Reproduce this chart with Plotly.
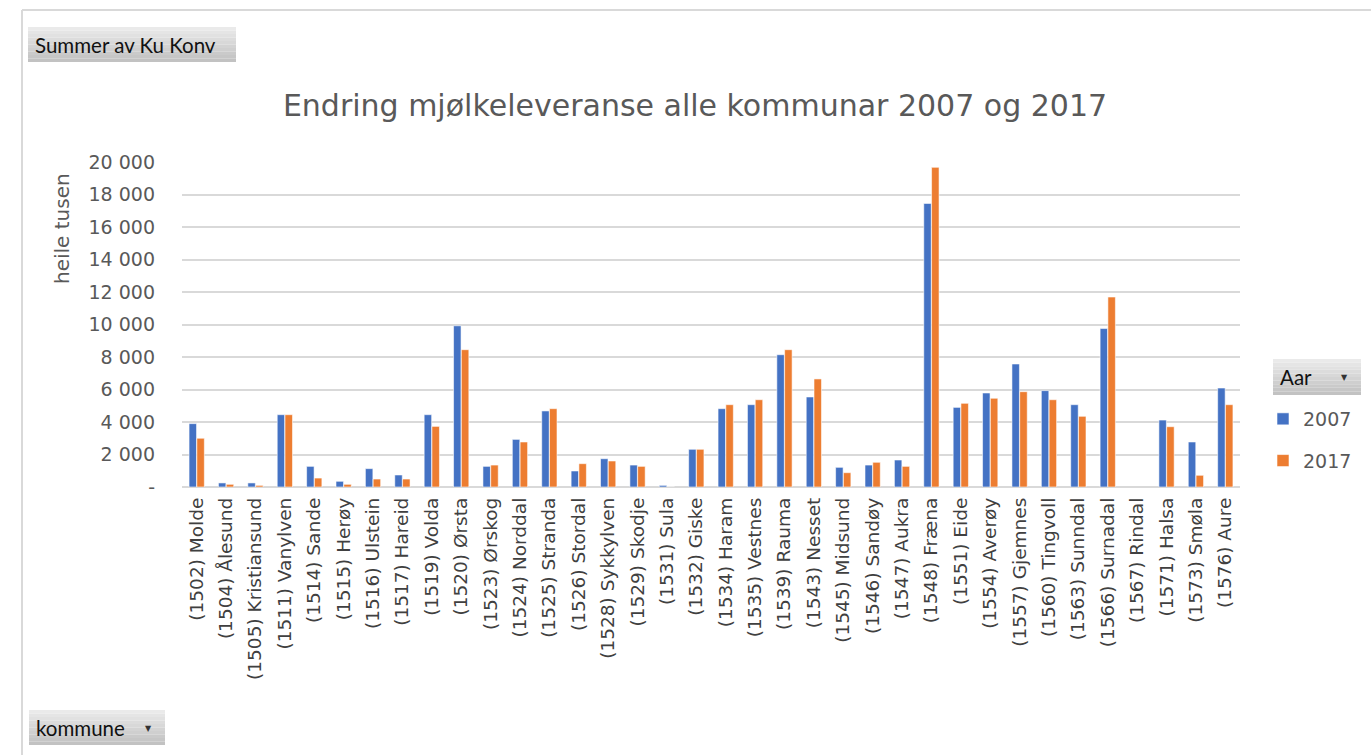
import plotly.graph_objects as go

kommune = ["(1502) Molde", "(1504) Ålesund", "(1505) Kristiansund", "(1511) Vanylven",
           "(1514) Sande", "(1515) Herøy", "(1516) Ulstein", "(1517) Hareid",
           "(1519) Volda", "(1520) Ørsta", "(1523) Ørskog", "(1524) Norddal",
           "(1525) Stranda", "(1526) Stordal", "(1528) Sykkylven", "(1529) Skodje",
           "(1531) Sula", "(1532) Giske", "(1534) Haram", "(1535) Vestnes",
           "(1539) Rauma", "(1543) Nesset", "(1545) Midsund", "(1546) Sandøy",
           "(1547) Aukra", "(1548) Fræna", "(1551) Eide", "(1554) Averøy",
           "(1557) Gjemnes", "(1560) Tingvoll", "(1563) Sunndal", "(1566) Surnadal",
           "(1567) Rindal", "(1571) Halsa", "(1573) Smøla", "(1576) Aure"]

v2007 = [3900, 250, 250, 4450, 1270, 350, 1130, 740, 4450, 9920, 1270, 2930,
         4680, 985, 1740, 1350, 100, 2320, 4820, 5065, 8140, 5540, 1210, 1350,
         1660, 17450, 4900, 5785, 7570, 5930, 5065, 9750, None, 4120, 2770, 6090]
v2017 = [3000, 165, 100, 4450, 550, 165, 490, 490, 3730, 8450, 1350, 2770,
         4820, 1435, 1600, 1270, 0, 2320, 5065, 5370, 8450, 6650, 880, 1520,
         1270, 19670, 5150, 5460, 5865, 5370, 4350, 11690, None, 3710, 720, 5065]

years = ["2007", "2017"]
colors = ["#4472C4", "#ED7D31"]

ytickvals = [0, 2000, 4000, 6000, 8000, 10000, 12000, 14000, 16000, 18000, 20000]
yticktext = ["-", "2 000", "4 000", "6 000", "8 000", "10 000", "12 000",
             "14 000", "16 000", "18 000", "20 000"]

W, H = 1371, 755
L, R, T, B = 182, 1240, 162, 487   # plot area in pixels
FONT = "DejaVu Sans"
BTNFONT = "Lato"
GREY = "#595959"


def px(x):
    return (x - L) / (R - L)


def py(y):
    return (B - y) / (B - T)


fig = go.Figure()
for i, (yr, vals) in enumerate(zip(years, [v2007, v2017])):
    fig.add_trace(go.Bar(
        x=kommune, y=vals, name=yr, legendgroup=yr,
        marker=dict(color=colors[i], line=dict(color="rgba(255,255,255,0.7)", width=0.8)),
    ))

shapes = []
# outer frame
shapes.append(dict(type="line", xref="paper", yref="paper",
                   x0=px(22), x1=px(W + 5), y0=py(10), y1=py(10),
                   line=dict(color="#d9d9d9", width=2)))
shapes.append(dict(type="line", xref="paper", yref="paper",
                   x0=px(22), x1=px(22), y0=py(10), y1=py(H + 5),
                   line=dict(color="#d9d9d9", width=2)))


def button(x0, y0, x1, y1):
    n = 10
    h = (y1 - y0) / n
    for k in range(n):
        g = int(234 - k * (234 - 194) / (n - 1))
        shapes.append(dict(type="rect", xref="paper", yref="paper",
                           x0=px(x0), x1=px(x1),
                           y0=py(y0 + (k + 1) * h), y1=py(y0 + k * h),
                           line=dict(width=0), fillcolor=f"rgb({g},{g},{g})", layer="below"))


button(28, 27, 236, 62)
button(29, 710, 165, 745)
button(1273, 359, 1361, 395)

annotations = [
    dict(text="Summer av Ku Konv", x=px(33), y=py(45), xref="paper", yref="paper",
         xanchor="left", yanchor="middle", showarrow=False,
         font=dict(family=BTNFONT, size=20.5, color="#111111")),
    dict(text="kommune", x=px(34), y=py(728), xref="paper", yref="paper",
         xanchor="left", yanchor="middle", showarrow=False,
         font=dict(family=BTNFONT, size=20.5, color="#111111")),
    dict(text="▼", x=px(148), y=py(728), xref="paper", yref="paper",
         xanchor="center", yanchor="middle", showarrow=False,
         font=dict(family="DejaVu Sans", size=8, color="#333333")),
    dict(text="Aar", x=px(1278), y=py(377), xref="paper", yref="paper",
         xanchor="left", yanchor="middle", showarrow=False,
         font=dict(family=BTNFONT, size=20.5, color="#111111")),
    dict(text="▼", x=px(1344), y=py(377), xref="paper", yref="paper",
         xanchor="center", yanchor="middle", showarrow=False,
         font=dict(family="DejaVu Sans", size=8, color="#333333")),
    dict(text="heile tusen", x=px(62), y=py(229), xref="paper", yref="paper",
         xanchor="center", yanchor="middle", textangle=-90, showarrow=False,
         font=dict(family=FONT, size=20, color=GREY)),
]

fig.update_layout(
    width=W, height=H,
    paper_bgcolor="white", plot_bgcolor="white",
    margin=dict(l=L, r=W - R, t=T, b=H - B, autoexpand=False),
    title=dict(text="Endring mjølkeleveranse alle kommunar 2007 og 2017",
               x=695 / W, xanchor="center", xref="container",
               y=1 - 105 / H, yanchor="middle", yref="container",
               font=dict(family=FONT, size=30, color=GREY)),
    barmode="group", bargap=0.47, bargroupgap=0.04,
    showlegend=True,
    legend=dict(x=px(1263), y=py(400), xanchor="left", yanchor="top",
                font=dict(family=FONT, size=19, color=GREY),
                tracegroupgap=14, traceorder="grouped",
                bgcolor="rgba(0,0,0,0)", itemwidth=30),
    xaxis=dict(tickangle=-90, tickfont=dict(family=FONT, size=18.5, color="#404040"),
               showgrid=False, showline=False, ticks="", ticklabelstandoff=6,
               automargin=False),
    yaxis=dict(range=[0, 20000], tickvals=ytickvals, ticktext=yticktext,
               tickfont=dict(family=FONT, size=19, color=GREY),
               showgrid=True, gridcolor="#d9d9d9", gridwidth=1.5,
               zeroline=True, zerolinecolor="#d9d9d9", zerolinewidth=1.5,
               showline=False, ticks="", ticklabelstandoff=26, automargin=False),
    shapes=shapes, annotations=annotations,
)

fig.write_html("out.html", config={"displayModeBar": False},
               post_script="document.body.style.margin='0px';")
